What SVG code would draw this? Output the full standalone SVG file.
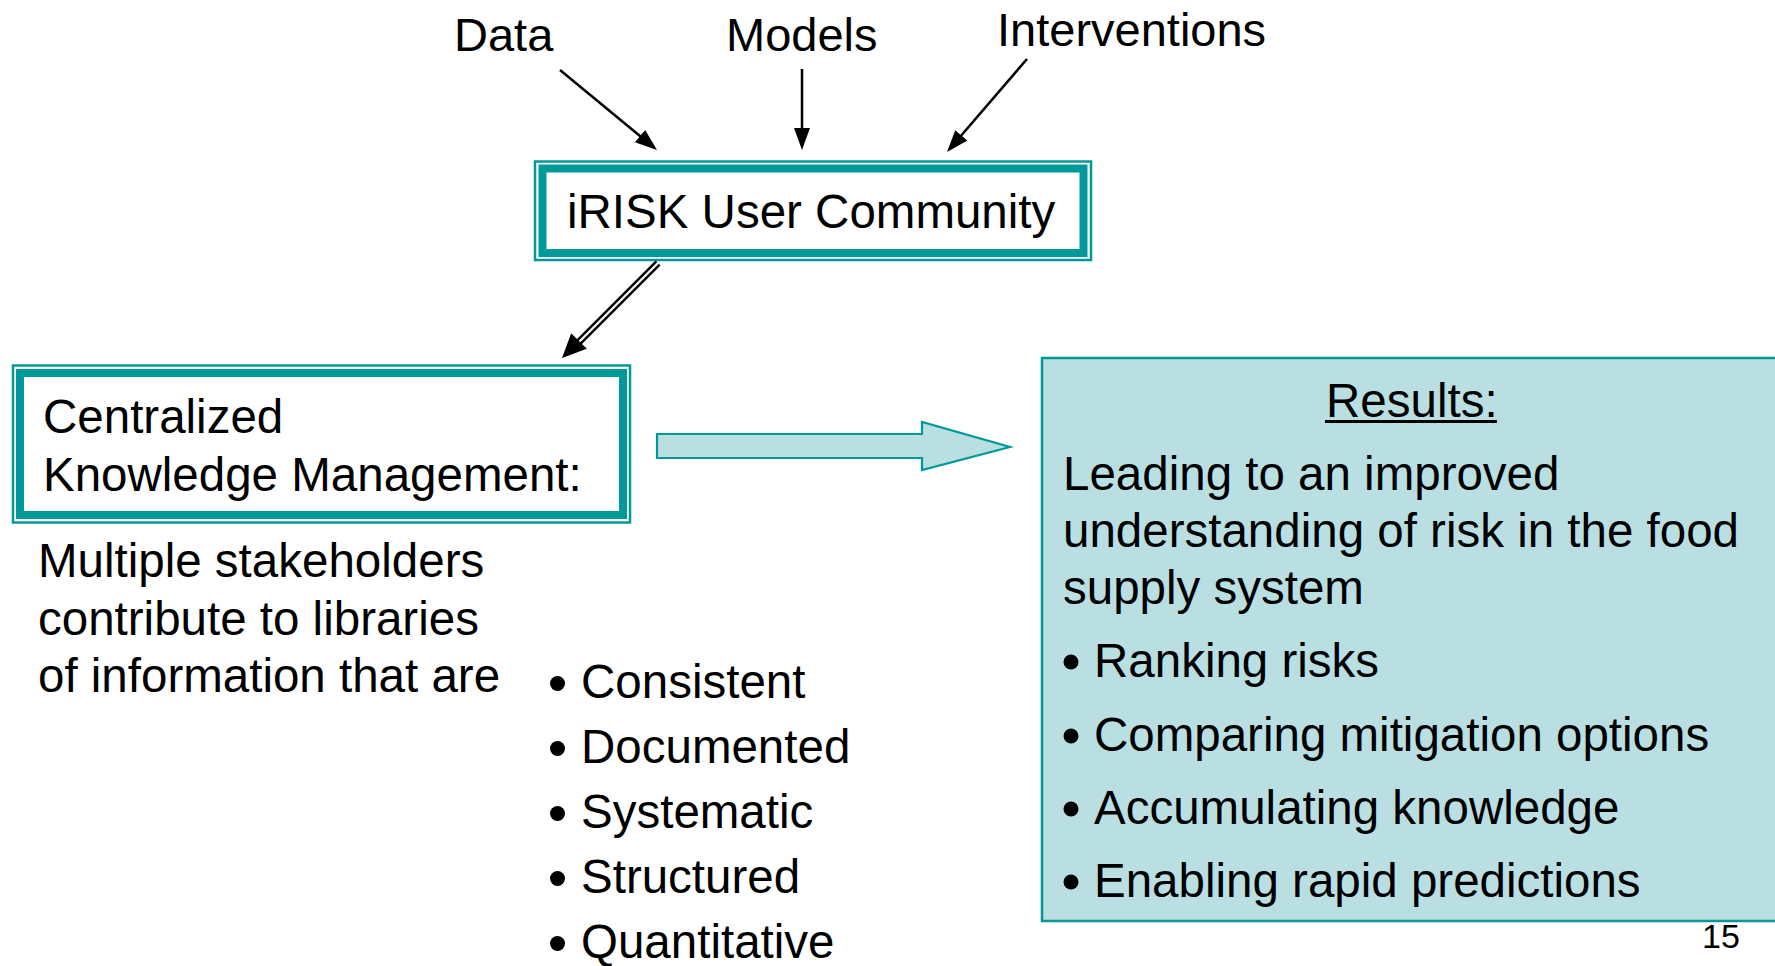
<svg xmlns="http://www.w3.org/2000/svg" width="1775" height="966" viewBox="0 0 1775 966">
  <style>
    text { font-family: "Liberation Sans", Arial, sans-serif; fill: #000; }
    .t { font-size: 47.5px; }
    .lbl { font-size: 47px; }
    .pg { font-size: 34px; }
    .thin { fill: none; stroke: #009999; stroke-width: 2.5; }
    .thick { fill: none; stroke: #009999; stroke-width: 8; }
    .wire { fill: none; stroke: #000; stroke-width: 2.5; }
    .dot { fill: #000; }
  </style>
  <defs>
    <marker id="head" markerUnits="userSpaceOnUse" markerWidth="24" markerHeight="18" refX="18" refY="8" orient="auto">
      <path d="M0,0 L22,8 L0,16 Z" fill="#000"/>
    </marker>
  </defs>
  <rect x="0" y="0" width="1775" height="966" fill="#fff"/>

  <!-- input labels -->
  <g id="label-data"><text class="lbl" x="454" y="51">Data</text></g>
  <g id="label-models"><text class="lbl" x="726" y="51">Models</text></g>
  <g id="label-interventions"><text class="lbl" x="997" y="46">Interventions</text></g>

  <!-- community box -->
  <g id="node-community">
    <rect class="thin" x="535" y="161.5" width="556" height="98.5"/>
    <rect class="thick" x="542.5" y="168.5" width="541" height="84.5"/>
    <text class="t" x="567" y="228">iRISK User Community</text>
  </g>

  <!-- knowledge management box -->
  <g id="node-knowledge">
    <rect class="thin" x="13" y="365.5" width="617" height="157"/>
    <rect class="thick" x="20" y="373" width="603" height="142"/>
    <text class="t" x="43" y="433">Centralized</text>
    <text class="t" x="43" y="491">Knowledge Management:</text>
  </g>

  <!-- description under the knowledge box -->
  <g id="node-description">
    <text class="t" x="38" y="577">Multiple stakeholders</text>
    <text class="t" x="38" y="635">contribute to libraries</text>
    <text class="t" x="38" y="692">of information that are</text>
  </g>

  <!-- qualities list -->
  <g id="node-qualities">
    <circle class="dot" cx="557.5" cy="683.5" r="7.5"/><text class="t" x="581" y="698">Consistent</text>
    <circle class="dot" cx="557.5" cy="748.5" r="7.5"/><text class="t" x="581" y="763">Documented</text>
    <circle class="dot" cx="557.5" cy="813.5" r="7.5"/><text class="t" x="581" y="828">Systematic</text>
    <circle class="dot" cx="557.5" cy="878.5" r="7.5"/><text class="t" x="581" y="893">Structured</text>
    <circle class="dot" cx="557.5" cy="943.5" r="7.5"/><text class="t" x="581" y="958">Quantitative</text>
  </g>

  <!-- results panel -->
  <g id="node-results">
    <rect x="1042" y="358" width="740" height="563" fill="#B9DFE3" stroke="#009999" stroke-width="2.5"/>
    <text class="t" x="1326" y="417">Results:</text>
    <line x1="1325" y1="421.5" x2="1497" y2="421.5" stroke="#000" stroke-width="3"/>
    <text class="t" x="1063" y="490">Leading to an improved</text>
    <text class="t" x="1063" y="547">understanding of risk in the food</text>
    <text class="t" x="1063" y="604">supply system</text>
    <circle class="dot" cx="1071" cy="662" r="7.5"/><text class="t" x="1094" y="677">Ranking risks</text>
    <circle class="dot" cx="1071" cy="736" r="7.5"/><text class="t" x="1094" y="751">Comparing mitigation options</text>
    <circle class="dot" cx="1071" cy="809" r="7.5"/><text class="t" x="1094" y="824">Accumulating knowledge</text>
    <circle class="dot" cx="1071" cy="882" r="7.5"/><text class="t" x="1094" y="897">Enabling rapid predictions</text>
  </g>

  <!-- page number -->
  <g id="page-number"><text class="pg" x="1702" y="948">15</text></g>

  <!-- connectors -->
  <g id="connectors">
    <line class="wire" x1="560" y1="70" x2="653.9" y2="147.5" marker-end="url(#head)"/>
    <line class="wire" x1="802" y1="69" x2="802" y2="146" marker-end="url(#head)"/>
    <line class="wire" x1="1027" y1="59" x2="949.6" y2="149" marker-end="url(#head)"/>
    <!-- double-line arrow down to the knowledge box -->
    <line x1="658" y1="263" x2="578" y2="343" stroke="#000" stroke-width="7"/>
    <line x1="659" y1="262" x2="577" y2="344" stroke="#fff" stroke-width="2.2"/>
    <polygon points="562,358 571.2,333.2 586.8,348.8" fill="#000"/>
    <!-- block arrow toward the results panel -->
    <polygon points="657,434 922,434 922,422 1010,447 922,470 922,458 657,458" fill="#B9DFE3" stroke="#009999" stroke-width="2.2" stroke-linejoin="miter"/>
  </g>
</svg>
